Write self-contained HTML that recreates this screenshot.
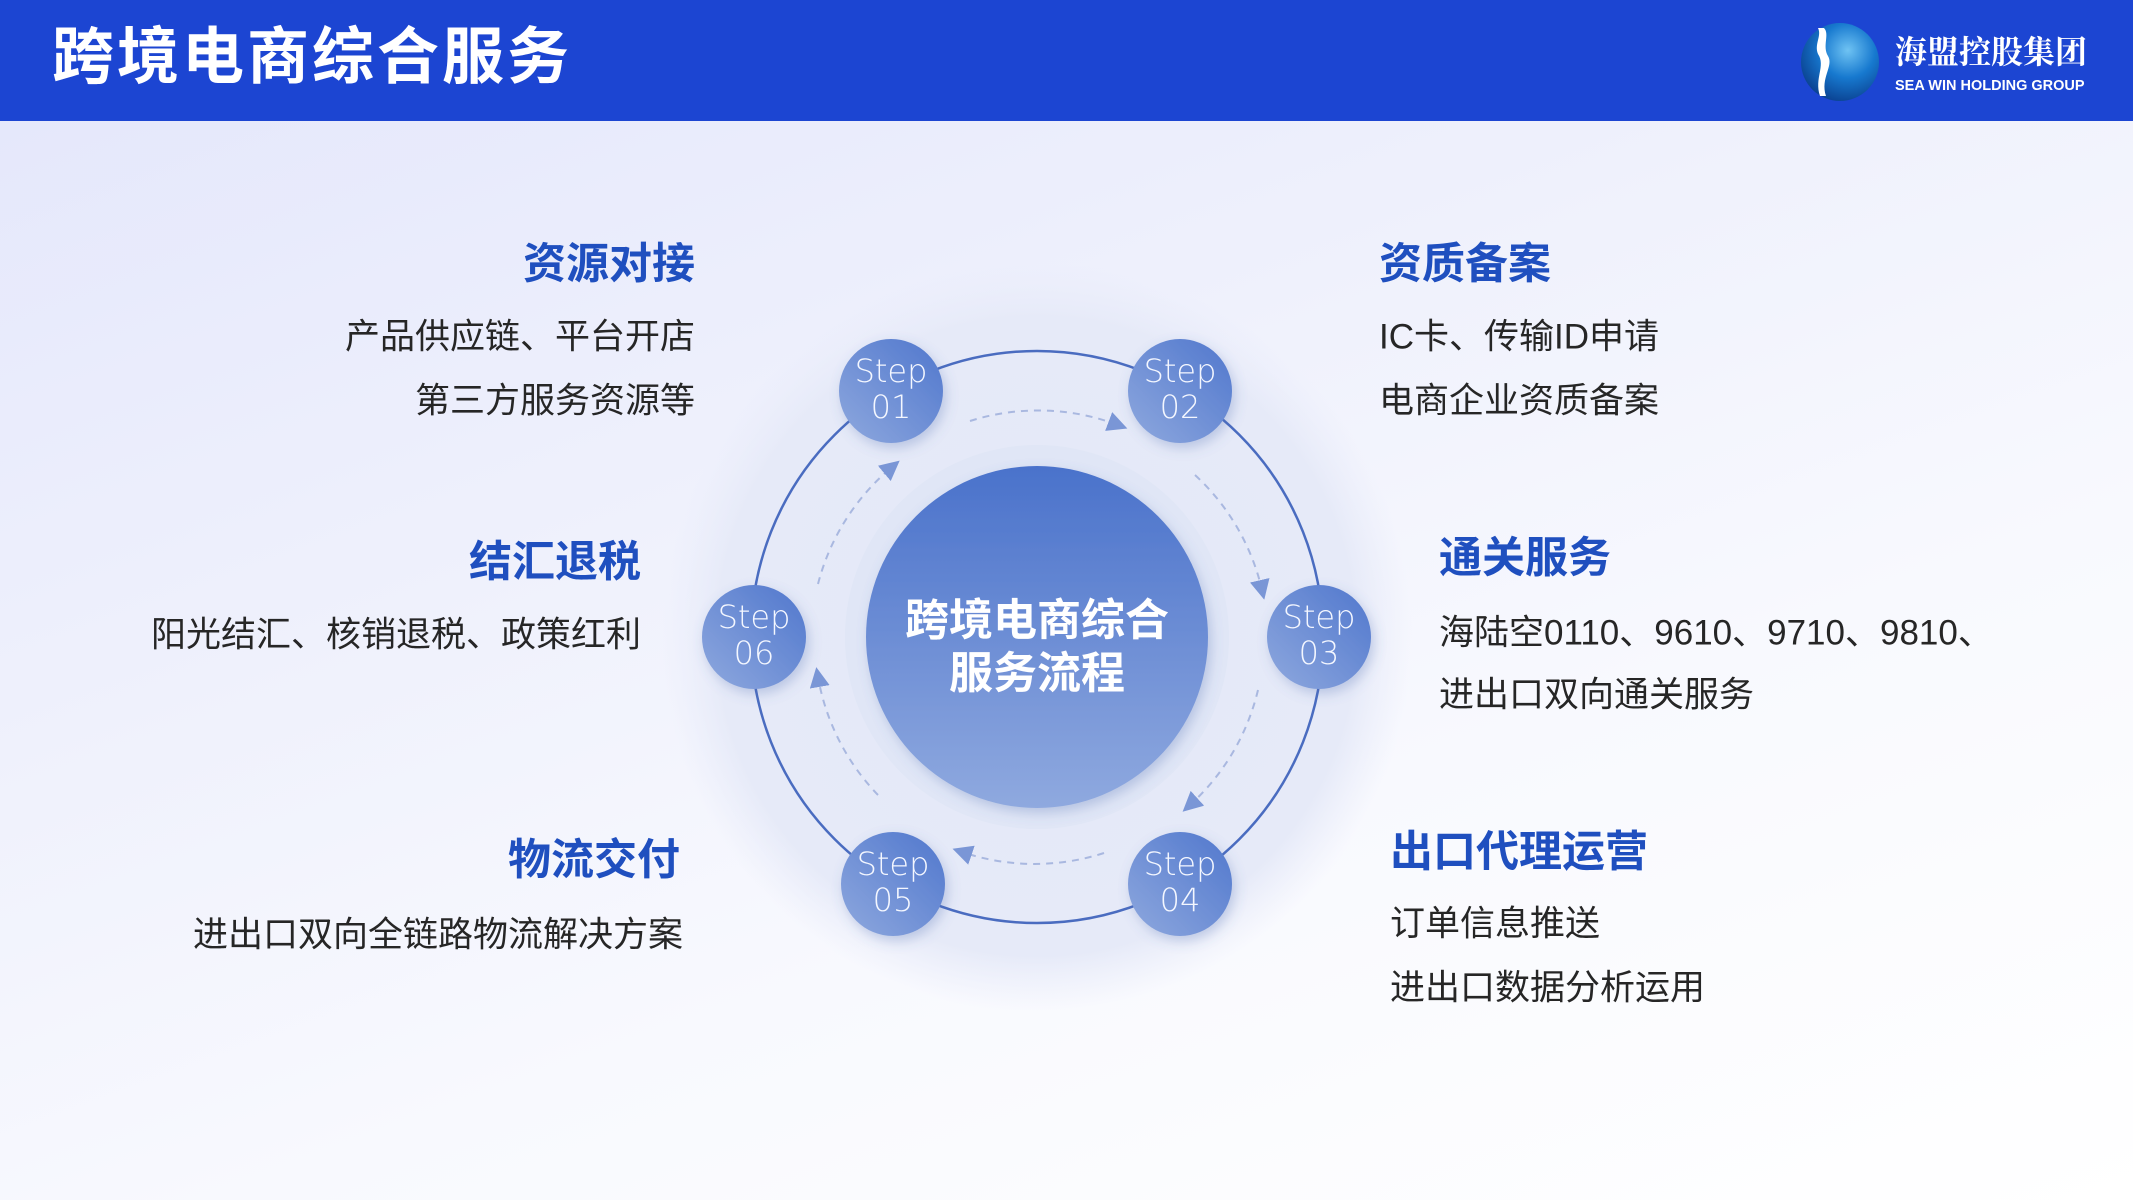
<!DOCTYPE html>
<html><head><meta charset="utf-8"><style>
*{margin:0;padding:0;box-sizing:border-box}
body{width:2133px;height:1200px;overflow:hidden;position:relative;font-family:"Liberation Sans","Noto Sans CJK SC",sans-serif;
background:linear-gradient(160deg,#e3e6fb 0%,#eef0fc 35%,#f8f9fe 65%,#ffffff 100%);}
.hdr{position:absolute;left:0;top:0;width:2133px;height:121px;background:#1c45d2;}
.title{position:absolute;left:52px;top:18px;font-size:62px;font-weight:bold;color:#fff;letter-spacing:3px;line-height:80px}
.t{position:absolute;white-space:nowrap;line-height:1;}
.h{font-size:43px;font-weight:bold;color:#1f4fbf;}
.b{font-size:35px;color:#262626;}
.r{transform:translate(-100%,-50%)}
.l{transform:translate(0,-50%)}
</style></head><body>
<div class="hdr"></div>
<div class="title">跨境电商综合服务</div>
<svg style="position:absolute;left:1800px;top:22px" width="80" height="80"><defs><radialGradient id="g" cx="0.6" cy="0.35" r="0.7"><stop offset="0" stop-color="#6fc3f3"/><stop offset="0.5" stop-color="#1779cf"/><stop offset="1" stop-color="#0a3f8e"/></radialGradient></defs><circle cx="40" cy="40" r="39" fill="url(#g)"/><path d="M24 6 C30 12 22 24 28 34 C34 44 20 56 26 74 L20 74 C14 56 26 44 18 32 C14 22 22 14 18 6Z" fill="#fff"/></svg>
<div class="t" style="left:1895px;top:36px;font-size:32px;color:#fff;font-family:'Liberation Serif','Noto Serif CJK SC',serif;font-weight:bold">海盟控股集团</div>
<div class="t" style="left:1895px;top:79px;font-size:14.5px;color:#fff;font-weight:bold">SEA WIN HOLDING GROUP</div>

<svg style="position:absolute;left:0;top:0" width="2133" height="1200">
<defs>
<linearGradient id="cg" x1="0" y1="0" x2="0" y2="1"><stop offset="0" stop-color="#4a72cb"/><stop offset="1" stop-color="#8fa9df"/></linearGradient>
<linearGradient id="sg" x1="0" y1="1" x2="1" y2="0"><stop offset="0" stop-color="#8ea8de"/><stop offset="1" stop-color="#5077cd"/></linearGradient>
<radialGradient id="halo" cx="0.5" cy="0.5" r="0.5"><stop offset="0" stop-color="#e3e8f7"/><stop offset="0.85" stop-color="#e6eaf8"/><stop offset="1" stop-color="#e9ecfa" stop-opacity="0"/></radialGradient>
<filter id="sh" x="-30%" y="-30%" width="160%" height="160%"><feDropShadow dx="3" dy="5" stdDeviation="6" flood-color="#5070b0" flood-opacity="0.3"/></filter>
<marker id="ar" markerWidth="10" markerHeight="10" refX="5" refY="5" orient="auto"><path d="M0 0 L10 5 L0 10Z" fill="#7a96d6"/></marker>
</defs>
<circle cx="1037" cy="637" r="375" fill="url(#halo)"/>
<circle cx="1037" cy="637" r="286" fill="none" stroke="#4a6cc0" stroke-width="2.5"/>
<circle cx="1037" cy="637" r="192" fill="#e0e6f6"/>
<circle cx="1037" cy="637" r="171" fill="url(#cg)" filter="url(#sh)"/>
<g fill="none" stroke="#a9b8e0" stroke-width="2" stroke-dasharray="7 6">
<path d="M970 421 A226 226 0 0 1 1118 425" marker-end="url(#ar)"/>
<path d="M1195 475 A226 226 0 0 1 1262 590" marker-end="url(#ar)"/>
<path d="M1258 690 A226 226 0 0 1 1190 805" marker-end="url(#ar)"/>
<path d="M1104 853 A226 226 0 0 1 962 852" marker-end="url(#ar)"/>
<path d="M878 795 A226 226 0 0 1 818 677" marker-end="url(#ar)"/>
<path d="M818 584 A226 226 0 0 1 892 467" marker-end="url(#ar)"/>
</g>
<g filter="url(#sh)" fill="url(#sg)">
<circle cx="891" cy="391" r="52"/><circle cx="1180" cy="391" r="52"/><circle cx="1319" cy="637" r="52"/>
<circle cx="1180" cy="884" r="52"/><circle cx="893" cy="884" r="52"/><circle cx="754" cy="637" r="52"/>
</g>
<g fill="#f4f7ff" font-size="32" text-anchor="middle" font-family="DejaVu Sans,Liberation Sans,sans-serif" font-weight="300">
<text x="891" y="382">Step</text><text x="891" y="418">01</text>
<text x="1180" y="382">Step</text><text x="1180" y="418">02</text>
<text x="1319" y="628">Step</text><text x="1319" y="664">03</text>
<text x="1180" y="875">Step</text><text x="1180" y="911">04</text>
<text x="893" y="875">Step</text><text x="893" y="911">05</text>
<text x="754" y="628">Step</text><text x="754" y="664">06</text>
</g>
<g fill="#fff" font-size="44" font-weight="bold" text-anchor="middle" font-family="Liberation Sans,Noto Sans CJK SC,sans-serif">
<text x="1037" y="635">跨境电商综合</text><text x="1037" y="688">服务流程</text>
</g>
</svg>

<div class="t h r" style="left:695px;top:265px">资源对接</div>
<div class="t b r" style="left:695px;top:337px">产品供应链、平台开店</div>
<div class="t b r" style="left:695px;top:401px">第三方服务资源等</div>
<div class="t h r" style="left:641px;top:563px">结汇退税</div>
<div class="t b r" style="left:641px;top:635px">阳光结汇、核销退税、政策红利</div>
<div class="t h r" style="left:680px;top:861px">物流交付</div>
<div class="t b r" style="left:683px;top:935px">进出口双向全链路物流解决方案</div>

<div class="t h l" style="left:1379px;top:265px">资质备案</div>
<div class="t b l" style="left:1379px;top:337px">IC卡、传输ID申请</div>
<div class="t b l" style="left:1379px;top:401px">电商企业资质备案</div>
<div class="t h l" style="left:1439px;top:559px">通关服务</div>
<div class="t b l" style="left:1439px;top:633px">海陆空0110、9610、9710、9810、</div>
<div class="t b l" style="left:1439px;top:695px">进出口双向通关服务</div>
<div class="t h l" style="left:1390px;top:853px">出口代理运营</div>
<div class="t b l" style="left:1390px;top:924px">订单信息推送</div>
<div class="t b l" style="left:1390px;top:988px">进出口数据分析运用</div>
</body></html>
